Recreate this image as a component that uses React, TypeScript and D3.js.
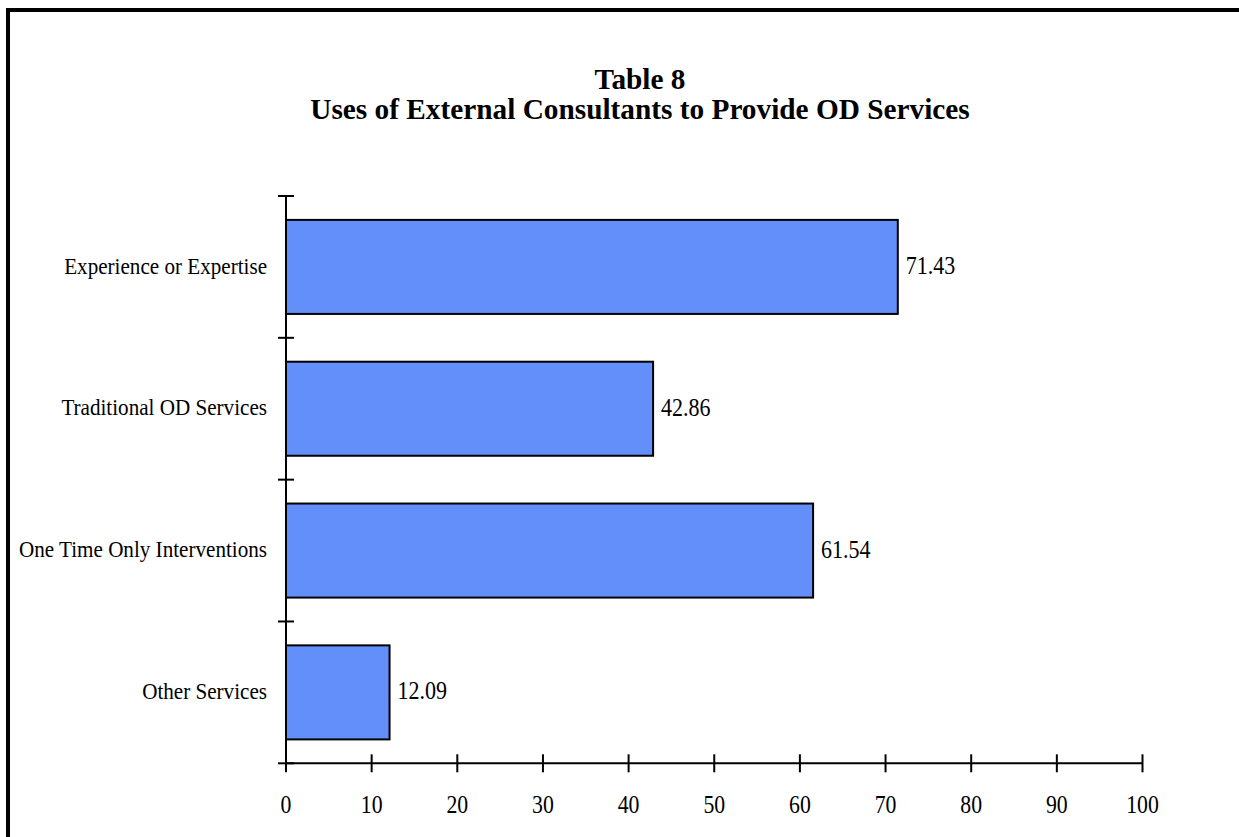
import React from "react";
import * as d3 from "d3";

// Survey results: share of respondents (%) by use of external consultants
const categories = [
  "Experience or Expertise",
  "Traditional OD Services",
  "One Time Only Interventions",
  "Other Services",
];
const values = [71.43, 42.86, 61.54, 12.09];
const valueLabels = ["71.43", "42.86", "61.54", "12.09"];
const xTicks = [0, 10, 20, 30, 40, 50, 60, 70, 80, 90, 100];
const titleLines = ["Table 8", "Uses of External Consultants to Provide OD Services"];

const W = 1239;
const H = 837;
const plot = { left: 286, right: 1142.5, top: 196, bottom: 763.3 };
const FONT = "'Liberation Serif', 'Times New Roman', Times, serif";
const BAR_FILL = "#628ffa";

export default function App() {
  const x = d3.scaleLinear().domain([0, 100]).range([plot.left, plot.right]);
  const band = d3
    .scaleBand<string>()
    .domain(categories)
    .range([plot.top, plot.bottom])
    .paddingInner(0.337)
    .paddingOuter(0.1685);
  const slots = d3.scaleBand<string>().domain(categories).range([plot.top, plot.bottom]).padding(0);
  const step = slots.step();
  const catTicks = d3.range(categories.length + 1).map((i) => plot.top + i * step);

  return (
    <svg
      width={W}
      height={H}
      style={{ position: "absolute", left: 0, top: 0, background: "#fff" }}
      fontFamily={FONT}
    >
      <rect x={0} y={0} width={W} height={H} fill="#fff" />
      {/* frame */}
      <path d={`M8,${H + 20} L8,10 L${W + 20},10`} fill="none" stroke="#000" strokeWidth={4} />

      {/* title */}
      <g fontWeight="bold" fontSize={29.3} textAnchor="middle" fill="#000">
        {titleLines.map((t, i) => (
          <text key={t} x={640} y={89 + i * 30}>
            {t}
          </text>
        ))}
      </g>

      {/* bars */}
      {categories.map((c, i) => (
        <rect
          key={c}
          x={x(0)}
          y={band(c)}
          width={x(values[i]) - x(0)}
          height={band.bandwidth()}
          fill={BAR_FILL}
          stroke="#000"
          strokeWidth={2}
        />
      ))}

      {/* value labels */}
      {categories.map((c, i) => {
        const cy = (band(c) as number) + band.bandwidth() / 2;
        return (
          <g key={c} transform={`translate(${x(values[i]) + 8},${cy}) scale(0.88,1)`}>
            <text fontSize={25} dy="0.28em" fill="#000">
              {valueLabels[i]}
            </text>
          </g>
        );
      })}

      {/* category labels */}
      {categories.map((c) => {
        const cy = (slots(c) as number) + step / 2;
        return (
          <g key={c} transform={`translate(${plot.left - 19},${cy}) scale(0.88,1)`}>
            <text fontSize={24} dy="0.28em" textAnchor="end" fill="#000">
              {c}
            </text>
          </g>
        );
      })}

      {/* y axis */}
      <line x1={plot.left} x2={plot.left} y1={plot.top} y2={plot.bottom} stroke="#000" strokeWidth={2} />
      {catTicks.map((ty, i) => (
        <line key={i} x1={plot.left - 8} x2={plot.left + 8} y1={ty} y2={ty} stroke="#000" strokeWidth={2} />
      ))}

      {/* x axis */}
      <line x1={plot.left} x2={plot.right} y1={plot.bottom} y2={plot.bottom} stroke="#000" strokeWidth={2} />
      {xTicks.map((t) => (
        <g key={t}>
          <line x1={x(t)} x2={x(t)} y1={plot.bottom - 9} y2={plot.bottom + 9} stroke="#000" strokeWidth={2} />
          <g transform={`translate(${x(t)},${plot.bottom + 50}) scale(0.87,1)`}>
            <text fontSize={25} textAnchor="middle" fill="#000">
              {t}
            </text>
          </g>
        </g>
      ))}
    </svg>
  );
}
